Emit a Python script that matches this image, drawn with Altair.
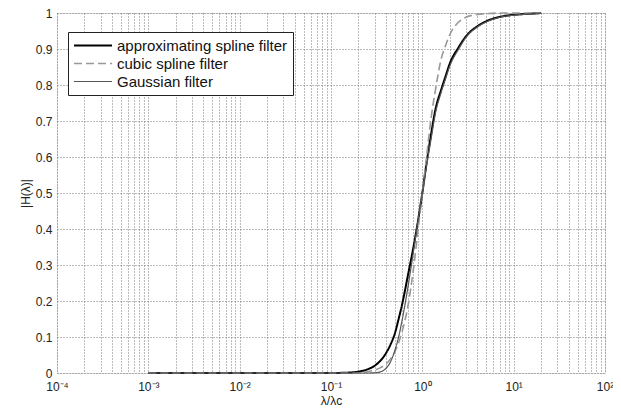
import altair as alt
import pandas as pd

# wavelength ratio lambda/lambda_c sample points
ratio = [0.001, 0.01, 0.1, 0.15, 0.2, 0.25, 0.3, 0.35, 0.4, 0.45, 0.5, 0.55, 0.6,
         0.7, 0.8, 0.9, 1.0, 1.1, 1.25, 1.4, 1.6, 1.8, 2.0, 2.5, 3, 4, 5, 7, 10, 15, 20]

approx_spline = [0, 0, 0, 0.001, 0.004, 0.01, 0.02, 0.035, 0.055, 0.08, 0.11, 0.15, 0.19,
                 0.275, 0.35, 0.425, 0.5, 0.575, 0.665, 0.735, 0.785, 0.825, 0.86, 0.905,
                 0.935, 0.963, 0.977, 0.989, 0.995, 0.998, 1.0]

cubic_spline = [0, 0, 0, 0, 0, 0.004, 0.008, 0.015, 0.025, 0.04, 0.059, 0.084, 0.115,
                0.19, 0.29, 0.40, 0.5, 0.59, 0.71, 0.79, 0.87, 0.91, 0.94, 0.975,
                0.988, 0.996, 0.998, 1.0, 1.0, 1.0, 1.0]

gaussian = [0, 0, 0, 0, 0, 0, 0.0005, 0.0035, 0.013, 0.032, 0.0625, 0.1, 0.146,
            0.243, 0.338, 0.425, 0.5, 0.568, 0.652, 0.725, 0.778, 0.818, 0.853, 0.9,
            0.932, 0.961, 0.975, 0.988, 0.994, 0.997, 0.999]

series_names = ["approximating spline filter", "cubic spline filter", "Gaussian filter"]

# axis ticks
x_decades = [1e-4, 1e-3, 1e-2, 1e-1, 1, 10, 100]
x_tick_labels = ["10\u207b\u2074", "10\u207b\u00b3", "10\u207b\u00b2", "10\u207b\u00b9",
                 "10\u2070", "10\u00b9", "10\u00b2"]
y_ticks = [0, 0.1, 0.2, 0.3, 0.4, 0.5, 0.6, 0.7, 0.8, 0.9, 1.0]

rows = []
for name, vals in zip(series_names, [approx_spline, cubic_spline, gaussian]):
    for r, v in zip(ratio, vals):
        rows.append({"ratio": r, "H": v, "series": name})
df = pd.DataFrame(rows)

x_grid = []
for d in x_decades[:-1]:
    for m in range(1, 10):
        x_grid.append(round(d * m, 10))
x_grid.append(100)

label_arr = "[" + ",".join("'" + s + "'" for s in x_tick_labels) + "]"
label_expr = ("abs(log(datum.value)/LN10 - round(log(datum.value)/LN10)) < 1e-6 ? "
              + label_arr + "[round(log(datum.value)/LN10) + 4] : ''")

FONT = "Liberation Sans"
legend = alt.Legend(
    title=None, orient="none", legendX=11, legendY=19,
    symbolType="M-1,0H4.07", symbolSize=225,
    labelFont=FONT, labelFontSize=15, labelColor="#111", labelLimit=0,
    strokeColor="#222", fillColor="white", padding=5, rowPadding=1,
    labelOffset=27,
)

chart = alt.Chart(df).mark_line(interpolate="monotone").encode(
    x=alt.X("ratio:Q",
            scale=alt.Scale(type="log", domain=[1e-4, 100], nice=False),
            axis=alt.Axis(values=x_grid, labelExpr=label_expr, title="\u03bb/\u03bbc",
                          grid=True, gridDash=[1, 2], gridColor="#777", gridOpacity=1,
                          ticks=False, domain=False, labelFont=FONT, labelFontSize=12,
                          labelColor="#222", labelPadding=8, labelFlush=False,
                          titleFont=FONT, titleFontSize=12, titleFontWeight="normal",
                          titleColor="#222", titlePadding=3)),
    y=alt.Y("H:Q",
            scale=alt.Scale(domain=[0, 1], nice=False),
            axis=alt.Axis(values=y_ticks, format="~g", title="|H(\u03bb)|",
                          grid=True, gridDash=[1, 2], gridColor="#777", gridOpacity=1,
                          ticks=False, domain=False, labelFont=FONT, labelFontSize=12,
                          labelColor="#222", labelPadding=5,
                          titleFont=FONT, titleFontSize=12, titleFontWeight="normal",
                          titleColor="#222", titlePadding=3)),
    color=alt.Color("series:N",
                    scale=alt.Scale(domain=series_names, range=["#000000", "#999999", "#555555"]),
                    legend=legend),
    strokeDash=alt.StrokeDash("series:N",
                              scale=alt.Scale(domain=series_names, range=[[1, 0], [8, 4], [1, 0]]),
                              legend=legend),
    strokeWidth=alt.StrokeWidth("series:N",
                                scale=alt.Scale(domain=series_names, range=[2, 1.2, 0.9]),
                                legend=legend),
    order=alt.Order("ratio:Q"),
).properties(
    width=548, height=360,
    autosize=alt.AutoSizeParams(type="none"),
    padding={"left": 49, "top": 5, "right": 8, "bottom": 33},
).configure_view(stroke="#888", strokeWidth=1.2).configure(background="white")

chart.save("out.html", embed_options={"renderer": "svg", "actions": False})
